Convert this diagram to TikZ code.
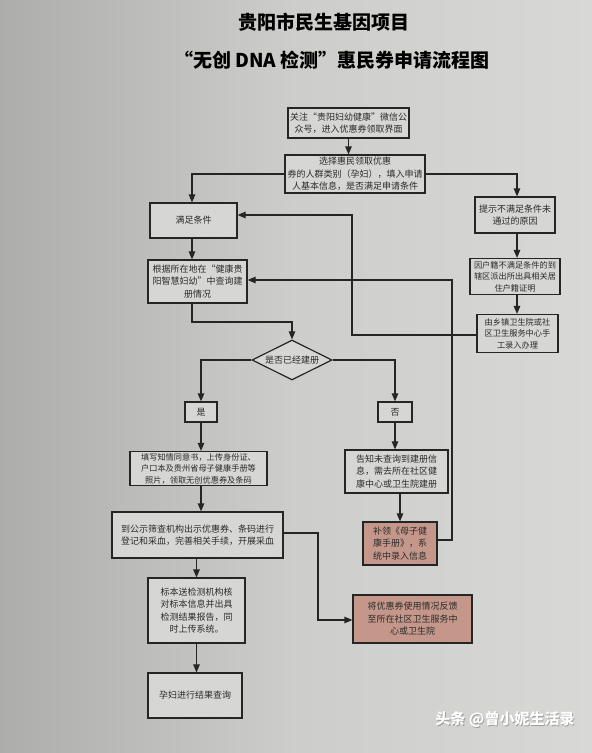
\documentclass[tikz,border=0pt]{standalone}
\usepackage{fontspec}
\setmainfont{Noto Sans CJK SC}
\usetikzlibrary{arrows.meta,shapes.geometric}
\definecolor{paper}{HTML}{CDCDCB}
\definecolor{paperL}{HTML}{ADADAB}
\definecolor{paperR}{HTML}{D8D8D6}
\definecolor{boxc}{HTML}{D6D6D4}
\definecolor{pinkc}{HTML}{C4978A}
\definecolor{linec}{HTML}{252525}
\definecolor{txtc}{HTML}{2B2B2B}
\begin{document}
\begin{tikzpicture}[x=1pt,y=-1pt,
  box/.style={draw=linec, line width=1.2pt, fill=boxc, align=center, inner sep=0pt,
    font=\fontsize{9}{12.5}\selectfont, text=txtc},
  smallbox/.style={box, font=\fontsize{8.2}{11.5}\selectfont},
  pinkbox/.style={box, fill=pinkc},
  arr/.style={draw=linec, line width=1.2pt, -{Triangle[length=8pt,width=6.5pt]}},
  ln/.style={draw=linec, line width=1.2pt},
  ttl/.style={font=\fontsize{19}{22}\selectfont\bfseries, text=black}]
\useasboundingbox (0,0) rectangle (592,753);
\shade[left color=paperL, right color=paperR, middle color=paper] (0,0) rectangle (592,753);

% titles
\node[ttl] (t1) at (324,22) {贵阳市民生基因项目};
\node[ttl] (t2) at (332,60) {“无创 DNA 检测”惠民券申请流程图};

% boxes
\node[box, minimum width=121pt, minimum height=30pt] (b1) at (348.5,123)
  {关注“贵阳妇幼健康”微信公\\众号，进入优惠券领取界面};
\node[box, minimum width=140pt, minimum height=38pt] (b2) at (355,174)
  {选择惠民领取优惠\\券的人群类别（孕妇），填入申请\\人基本信息，是否满足申请条件};
\node[box, minimum width=87pt, minimum height=35pt] (b3) at (193.5,220.5) {满足条件};
\node[box, minimum width=80pt, minimum height=36pt] (b4) at (515,215)
  {提示不满足条件未\\通过的原因};
\node[smallbox, minimum width=90pt, minimum height=36pt] (b5) at (515,276.5)
  {因户籍不满足条件的到\\辖区派出所出具相关居\\住户籍证明};
\node[smallbox, minimum width=81pt, minimum height=38pt] (b6) at (517.5,333.5)
  {由乡镇卫生院或社\\区卫生服务中心手\\工录入办理};
\node[box, minimum width=99pt, minimum height=43pt] (b7) at (197.5,281.5)
  {根据所在地在“健康贵\\阳智慧妇幼”中查询建\\册情况};
\node[box, shape=diamond, aspect=2, minimum width=80pt, minimum height=40pt] (d) at (292,360)
  {是否已经建册};
\node[box, minimum width=32pt, minimum height=20pt] (yes) at (201,412) {是};
\node[box, minimum width=34pt, minimum height=20pt] (no) at (395,412) {否};
\node[smallbox, minimum width=137pt, minimum height=34pt] (b10) at (198.5,468.5)
  {填写知情同意书，上传身份证、\\户口本及贵州省母子健康手册等\\照片，领取无创优惠券及条码};
\node[box, minimum width=103pt, minimum height=43pt] (b11) at (396.5,471.5)
  {告知未查询到建册信\\息，需去所在社区健\\康中心或卫生院建册};
\node[pinkbox, minimum width=74pt, minimum height=43pt] (b12) at (400,543.5)
  {补领《母子健\\康手册》，系\\统中录入信息};
\node[box, minimum width=171pt, minimum height=46pt] (b13) at (197.5,535)
  {到公示筛查机构出示优惠券、条码进行\\登记和采血，完善相关手续，开展采血};
\node[box, minimum width=97pt, minimum height=65pt] (b14) at (196.5,610.5)
  {标本送检测机构核\\对标本信息并出具\\检测结果报告，同\\时上传系统。};
\node[pinkbox, minimum width=119pt, minimum height=48pt] (b15) at (412.5,619)
  {将优惠券使用情况反馈\\至所在社区卫生服务中\\心或卫生院};
\node[box, minimum width=94pt, minimum height=45pt] (b16) at (195,695.5) {孕妇进行结果查询};

% helper coordinates
\coordinate (c2l) at (192,174);
\coordinate (c2r) at (517,174);
\coordinate (c6a) at (352,335);
\coordinate (c6b) at (352,215);
\coordinate (c7a) at (192,322);
\coordinate (c7b) at (292,322);
\coordinate (cdl) at (201,360);
\coordinate (cdr) at (395,360);
\coordinate (c12a) at (452,540);
\coordinate (c12b) at (452,280);
\coordinate (c13a) at (318,533);
\coordinate (c13b) at (318,620);

% connectors
\draw[arr] (b1.south) -- (b1.south |- b2.north);
\draw[arr] (b2.west |- c2l) -- (c2l) -- (c2l |- b3.north);
\draw[arr] (b2.east |- c2r) -- (c2r) -- (c2r |- b4.north);
\draw[arr] (b4.south -| c2r) -- (c2r |- b5.north);
\draw[arr] (b5.south -| c2r) -- (c2r |- b6.north);
\draw[arr] (b6.west |- c6a) -- (c6a) -- (c6b) -- (b3.east |- c6b);
\draw[arr] (c2l |- b3.south) -- (c2l |- b7.north);
\draw[arr] (c7a |- b7.south) -- (c7a) -- (c7b) -- (d.north);
\draw[arr] (d.west) -- (cdl) -- (cdl |- yes.north);
\draw[arr] (d.east) -- (cdr) -- (cdr |- no.north);
\draw[arr] (yes.south) -- (yes.south |- b10.north);
\draw[arr] (no.south) -- (no.south |- b11.north);
\draw[arr] (yes.south |- b10.south) -- (yes.south |- b13.north);
\draw[arr] (b12.north |- b11.south) -- (b12.north);
\draw[arr] (b12.east |- c12a) -- (c12a) -- (c12b) -- (b7.east |- c12b);
\draw[arr] (b13.east |- c13a) -- (c13a) -- (c13b) -- (b15.west |- c13b);
\draw[arr] (b14.north |- b13.south) -- (b14.north);
\draw[arr] (b14.south) -- (b14.south |- b16.north);

% watermark
\node[font=\fontsize{15}{18}\selectfont\bfseries, text=black!60, opacity=0.5] (wms) at (505.8,720.8) {头条 @曾小妮生活录};
\node[font=\fontsize{15}{18}\selectfont\bfseries, text=white] (wm) at (505,720) {头条 @曾小妮生活录};
\end{tikzpicture}
\end{document}
